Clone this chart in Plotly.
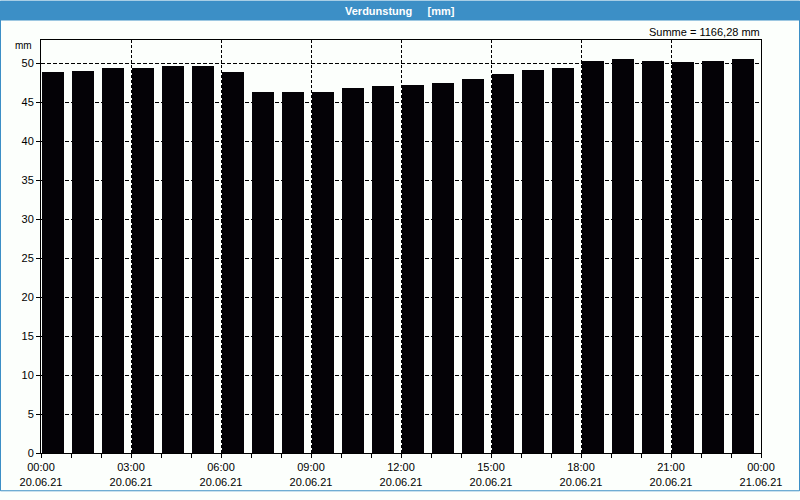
import plotly.graph_objects as go

hours = list(range(24))
values = [48.90, 49.03, 49.40, 49.40, 49.66, 49.66, 48.90, 46.27, 46.27, 46.27,
          46.77, 47.02, 47.15, 47.40, 47.90, 48.53, 49.16, 49.40, 50.29, 50.54,
          50.29, 50.16, 50.29, 50.54]
tick_hours = [0, 3, 6, 9, 12, 15, 18, 21, 24]
tick_labels = ["00:00<br>20.06.21", "03:00<br>20.06.21", "06:00<br>20.06.21",
               "09:00<br>20.06.21", "12:00<br>20.06.21", "15:00<br>20.06.21",
               "18:00<br>20.06.21", "21:00<br>20.06.21", "00:00<br>21.06.21"]
y_ticks = list(range(0, 51, 5))
title_text = "Verdunstung&nbsp;&nbsp;&nbsp;&nbsp;&nbsp;[mm]"
sum_text = "Summe = 1166,28 mm"

FONT = "Liberation Sans, Arial, sans-serif"
BLUE = "#3c8fc6"

fig = go.Figure()
fig.add_trace(go.Bar(
    x=[h + 0.4 for h in hours], y=values, width=0.733,
    marker=dict(color="#040206", line=dict(width=0)),
    hoverinfo="skip",
))

W, H = 800, 500
L, R, T, B = 41, 39, 40, 39
pw, ph = W - L - R, H - T - B

def px(x):
    return (x - L) / pw

def py(y):
    return (H - B - y) / ph

fig.update_layout(
    width=W, height=H,
    margin=dict(l=L, r=R, t=T, b=B, pad=0),
    paper_bgcolor="#fcfffc", plot_bgcolor="#fcfffc",
    showlegend=False, bargap=0,
    font=dict(family=FONT, size=11, color="#000000"),
    xaxis=dict(
        range=[0, 24], tickmode="array", tickvals=tick_hours, ticktext=tick_labels,
        ticks="outside", ticklen=4, tickcolor="#000", tickwidth=1,
        showgrid=True, gridcolor="#000", gridwidth=1, griddash="3px,2px",
        showline=True, linecolor="#000", linewidth=1, mirror=True,
        zeroline=False, fixedrange=True,
        minor=dict(dtick=1, tick0=0, ticks="outside", ticklen=4, tickcolor="#000", showgrid=False),
        tickfont=dict(family=FONT, size=11),
    ),
    yaxis=dict(
        range=[0, 52.95], tickmode="array", tickvals=y_ticks,
        ticks="outside", ticklen=4, tickcolor="#000",
        showgrid=True, gridcolor="#000", gridwidth=1, griddash="4px,2px",
        showline=True, linecolor="#000", linewidth=1, mirror=True,
        zeroline=False, fixedrange=True,
        tickfont=dict(family=FONT, size=11),
    ),
    shapes=[
        dict(type="rect", xref="paper", yref="paper",
             x0=px(0), x1=px(800), y0=py(0), y1=py(20),
             fillcolor=BLUE, line=dict(width=0), layer="above"),
        dict(type="rect", xref="paper", yref="paper",
             x0=px(0.5), x1=px(799.5), y0=py(0.5), y1=py(499.5),
             fillcolor="rgba(0,0,0,0)", line=dict(color=BLUE, width=1), layer="above"),
    ],
    annotations=[
        dict(text="<b>" + title_text + "</b>", xref="paper", yref="paper",
             x=px(400), y=py(10), xanchor="center", yanchor="middle",
             showarrow=False, font=dict(family=FONT, size=11, color="#ffffff")),
        dict(text=sum_text, xref="paper", yref="paper",
             x=px(762), y=py(32), xanchor="right", yanchor="middle",
             showarrow=False, font=dict(family=FONT, size=11, color="#000")),
        dict(text="mm", xref="paper", yref="paper",
             x=px(34), y=py(46), xanchor="right", yanchor="middle",
             showarrow=False, font=dict(family=FONT, size=10, color="#000")),
    ],
)

fig.write_html("out.html")
